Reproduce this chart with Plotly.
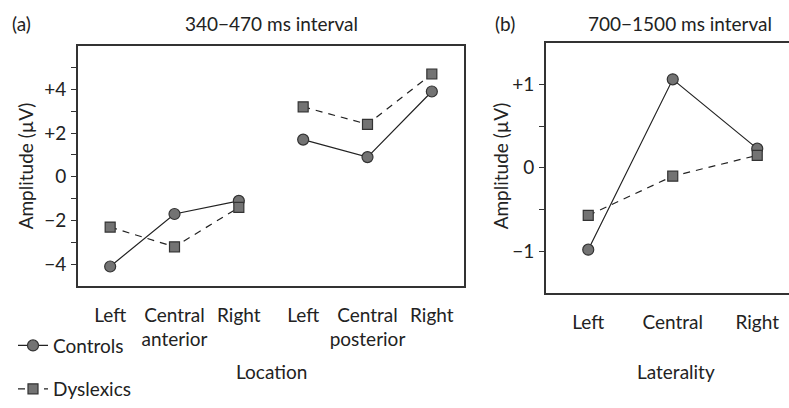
import plotly.graph_objects as go

# ---------------- data ----------------
loc_ticks = ["Left", "Central<br>anterior", "Right", "Left", "Central<br>posterior", "Right"]
anterior_pos = [0, 1, 2]
posterior_pos = [3, 4, 5]
controls_anterior = [-4.1, -1.7, -1.1]
controls_posterior = [1.7, 0.9, 3.9]
dyslexics_anterior = [-2.3, -3.2, -1.4]
dyslexics_posterior = [3.2, 2.4, 4.7]

lat_ticks = ["Left", "Central", "Right"]
lat_pos = [0, 1, 2]
controls_lat = [-0.98, 1.06, 0.23]
dyslexics_lat = [-0.57, -0.10, 0.15]

left_yticks = [-4, -2, 0, 2, 4]
left_yticktext = ["\u22124", "\u22122", "0", "+2", "+4"]
left_minor = [-3, -1, 1, 3, 5]
right_yticks = [-1, 0, 1]
right_yticktext = ["\u22121", "0", "+1"]
right_minor = [-0.5, 0.5]

# ---------------- style ----------------
W, H = 789, 408
FONT = "Lato"
FS = 19
TXT = "#222222"
AX = "#333333"
MFILL = "#737373"
LINE = "#222222"

def px_x(p):
    return p / W

def px_y(p):
    return 1 - p / H

fig = go.Figure()

def add_series(x, y, name, symbol, dash, xa, ya, legend, show):
    fig.add_trace(go.Scatter(
        x=x, y=y, mode="lines+markers", name=name,
        xaxis=xa, yaxis=ya, legendgroup=name, showlegend=show, legend=legend,
        line=dict(color=LINE, width=1.2, dash=dash),
        marker=dict(symbol=symbol, size=11 if symbol == "circle" else 10,
                    color=MFILL, line=dict(color=AX, width=1.2)),
    ))

DASH = "7px,6px"
# controls first (beneath), dyslexics on top
add_series(anterior_pos, controls_anterior, "Controls", "circle", "solid", "x", "y", "legend", True)
add_series(posterior_pos, controls_posterior, "Controls", "circle", "solid", "x", "y", "legend", False)
add_series(lat_pos, controls_lat, "Controls", "circle", "solid", "x2", "y2", "legend", False)
add_series(anterior_pos, dyslexics_anterior, "Dyslexics", "square", DASH, "x", "y", "legend2", True)
add_series(posterior_pos, dyslexics_posterior, "Dyslexics", "square", DASH, "x", "y", "legend2", False)
add_series(lat_pos, dyslexics_lat, "Dyslexics", "square", DASH, "x2", "y2", "legend2", False)

axis_common = dict(showgrid=False, zeroline=False, showline=True, linecolor=AX, linewidth=1.6,
                   tickfont=dict(family=FONT, size=FS, color=TXT))

fig.update_layout(
    width=W, height=H, margin=dict(l=0, r=0, t=0, b=0),
    paper_bgcolor="white", plot_bgcolor="white",
    font=dict(family=FONT, size=FS, color=TXT),
    xaxis=dict(domain=[px_x(78), px_x(464)], range=[-0.5, 5.5], anchor="y",
               tickvals=anterior_pos + posterior_pos, ticktext=loc_ticks,
               ticks="", mirror=True, ticklabelstandoff=11, **axis_common),
    yaxis=dict(domain=[px_y(289), px_y(46)], range=[-5, 6], anchor="x",
               tickvals=left_yticks, ticktext=left_yticktext,
               ticks="outside", ticklen=5, tickcolor=AX, mirror=True,
               minor=dict(tickvals=left_minor, ticks="outside", ticklen=5, tickcolor=AX),
               ticklabelstandoff=1, **axis_common),
    xaxis2=dict(domain=[px_x(546), 1.0], range=[-0.5, 2.376], anchor="y2",
                tickvals=lat_pos, ticktext=lat_ticks, ticks="", mirror=True,
                ticklabelstandoff=11, **axis_common),
    yaxis2=dict(domain=[px_y(296), px_y(43)], range=[-1.5, 1.5], anchor="x2",
                tickvals=right_yticks, ticktext=right_yticktext,
                ticks="outside", ticklen=5, tickcolor=AX, mirror=False,
                minor=dict(tickvals=right_minor, ticks="outside", ticklen=5, tickcolor=AX),
                ticklabelstandoff=1, **axis_common),
    legend=dict(x=px_x(13), y=px_y(349), xanchor="left", yanchor="middle",
                font=dict(family=FONT, size=FS, color=TXT), bgcolor="rgba(0,0,0,0)",
                itemwidth=30),
    legend2=dict(x=px_x(13), y=px_y(393), xanchor="left", yanchor="middle",
                 font=dict(family=FONT, size=FS, color=TXT), bgcolor="rgba(0,0,0,0)",
                 itemwidth=30),
)

def note(text, x, y, size=FS, angle=0, xanchor="center"):
    fig.add_annotation(text=text, x=px_x(x), y=px_y(y), xref="paper", yref="paper",
                       showarrow=False, xanchor=xanchor, yanchor="middle", textangle=angle,
                       font=dict(family=FONT, size=size, color=TXT))

note("(a)", 10, 24, xanchor="left")
note("340\u2212470 ms interval", 271, 24)
note("(b)", 493, 24, xanchor="left")
note("700\u22121500 ms interval", 680, 24)
note("Amplitude (\u00b5V)", 25, 168, angle=-90)
note("Amplitude (\u00b5V)", 500, 168, angle=-90)
note("Location", 271, 375)
note("Laterality", 676, 375)

fig.write_html("out.html", config={"displayModeBar": False},
               post_script="document.body.style.margin='0';")
